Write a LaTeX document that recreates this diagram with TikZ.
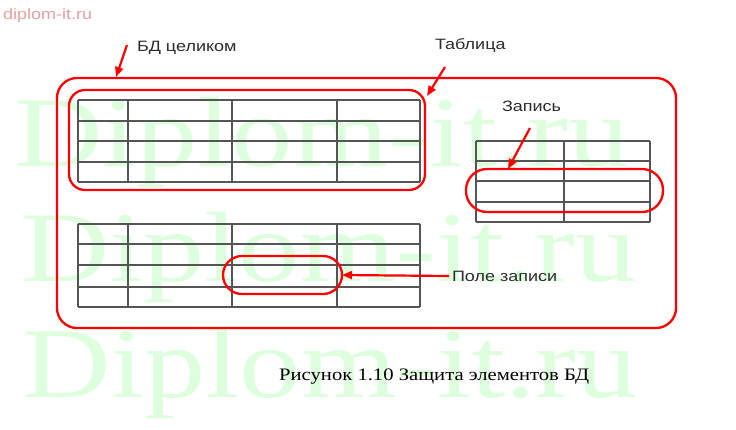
\documentclass[tikz,border=0pt]{standalone}
\usepackage{fontspec}
\setmainfont{Liberation Serif}
\newfontfamily\labfont{Liberation Sans}
\usetikzlibrary{arrows.meta}
\definecolor{wmgreen}{RGB}{222,255,222}
\definecolor{wmpink}{RGB}{228,160,160}
\definecolor{labgray}{RGB}{45,45,45}
\definecolor{gridgray}{RGB}{85,85,85}
\tikzset{
  wm/.style={inner sep=0pt, outer sep=0pt, anchor=base west, text=wmgreen, font=\fontsize{100}{100}\selectfont},
  lab/.style={inner sep=0pt, outer sep=0pt, anchor=base west, text=labgray, font=\labfont\fontsize{15}{15}\selectfont},
  redline/.style={draw=red, line width=2.3pt},
  redarrow/.style={draw=red, line width=2.2pt, -{Triangle[length=10pt,width=8pt]}},
  grid/.style={draw=gridgray, line width=1.2pt}
}
\begin{document}
\begin{tikzpicture}[x=1pt,y=-1pt]
\useasboundingbox (0,0) rectangle (736,429);
\fill[white] (0,0) rectangle (736,429);
% watermarks
\node[wm] (wm1) at (14,166) {\scalebox{1.225}[1]{Diplom-it.ru}};
\node[wm] (wm2) at (21,281) {\scalebox{1.225}[1]{Diplom-it.ru}};
\node[wm] (wm3) at (22,397) {\scalebox{1.225}[1]{Diplom-it.ru}};
\node[inner sep=0pt, anchor=base west, text=wmpink, font=\labfont\fontsize{15}{15}\selectfont] (site) at (3,19) {\scalebox{1.2}[1]{diplom-it.ru}};
% table 1
\foreach \y in {100,121,141,162,182} \draw[grid] (78,\y) -- (420,\y);
\foreach \x in {78,128,232,337,420} \draw[grid] (\x,100) -- (\x,182);
% table 2
\foreach \y in {141,161,181,202,222} \draw[grid] (476,\y) -- (650,\y);
\foreach \x in {476,564,650} \draw[grid] (\x,141) -- (\x,222);
% table 3
\foreach \y in {224,244,265,287,307} \draw[grid] (78,\y) -- (420,\y);
\foreach \x in {78,128,232,337,420} \draw[grid] (\x,224) -- (\x,307);
% red outlines
\draw[redline, rounded corners=20pt] (57,78) rectangle (676,328);
\draw[redline, rounded corners=16pt] (69,90) rectangle (425,190);
\draw[redline, rounded corners=21pt] (466,169) rectangle (663,212);
\draw[redline, rounded corners=19pt] (223,256) rectangle (342,294);
% labels
\node[lab] (bd) at (137,51) {\scalebox{1.2}[1]{БД целиком}};
\node[lab] (tab) at (435,49) {\scalebox{1.2}[1]{Таблица}};
\node[lab] (zap) at (502,111) {\scalebox{1.2}[1]{Запись}};
\node[lab] (pole) at (452,281) {\scalebox{1.2}[1]{Поле записи}};
\node[inner sep=0pt, anchor=base west, font=\fontsize{17.5}{17.5}\selectfont] (cap) at (279,380) {\scalebox{1.18}[1]{Рисунок 1.10 Защита элементов БД}};
% arrows
\coordinate (bdS) at (127,45);
\coordinate (bdE) at (116,77);
\coordinate (tabS) at (445,67);
\coordinate (tabE) at (427,96);
\coordinate (zapS) at (530,128);
\coordinate (zapE) at (508,169);
\coordinate (poleS) at (449,276);
\coordinate (poleE) at (342,275);
\draw[redarrow] (bdS) -- (bdE);
\draw[redarrow] (tabS) -- (tabE);
\draw[redarrow] (zapS) -- (zapE);
\draw[redarrow] (poleS) -- (poleE);
\end{tikzpicture}
\end{document}
